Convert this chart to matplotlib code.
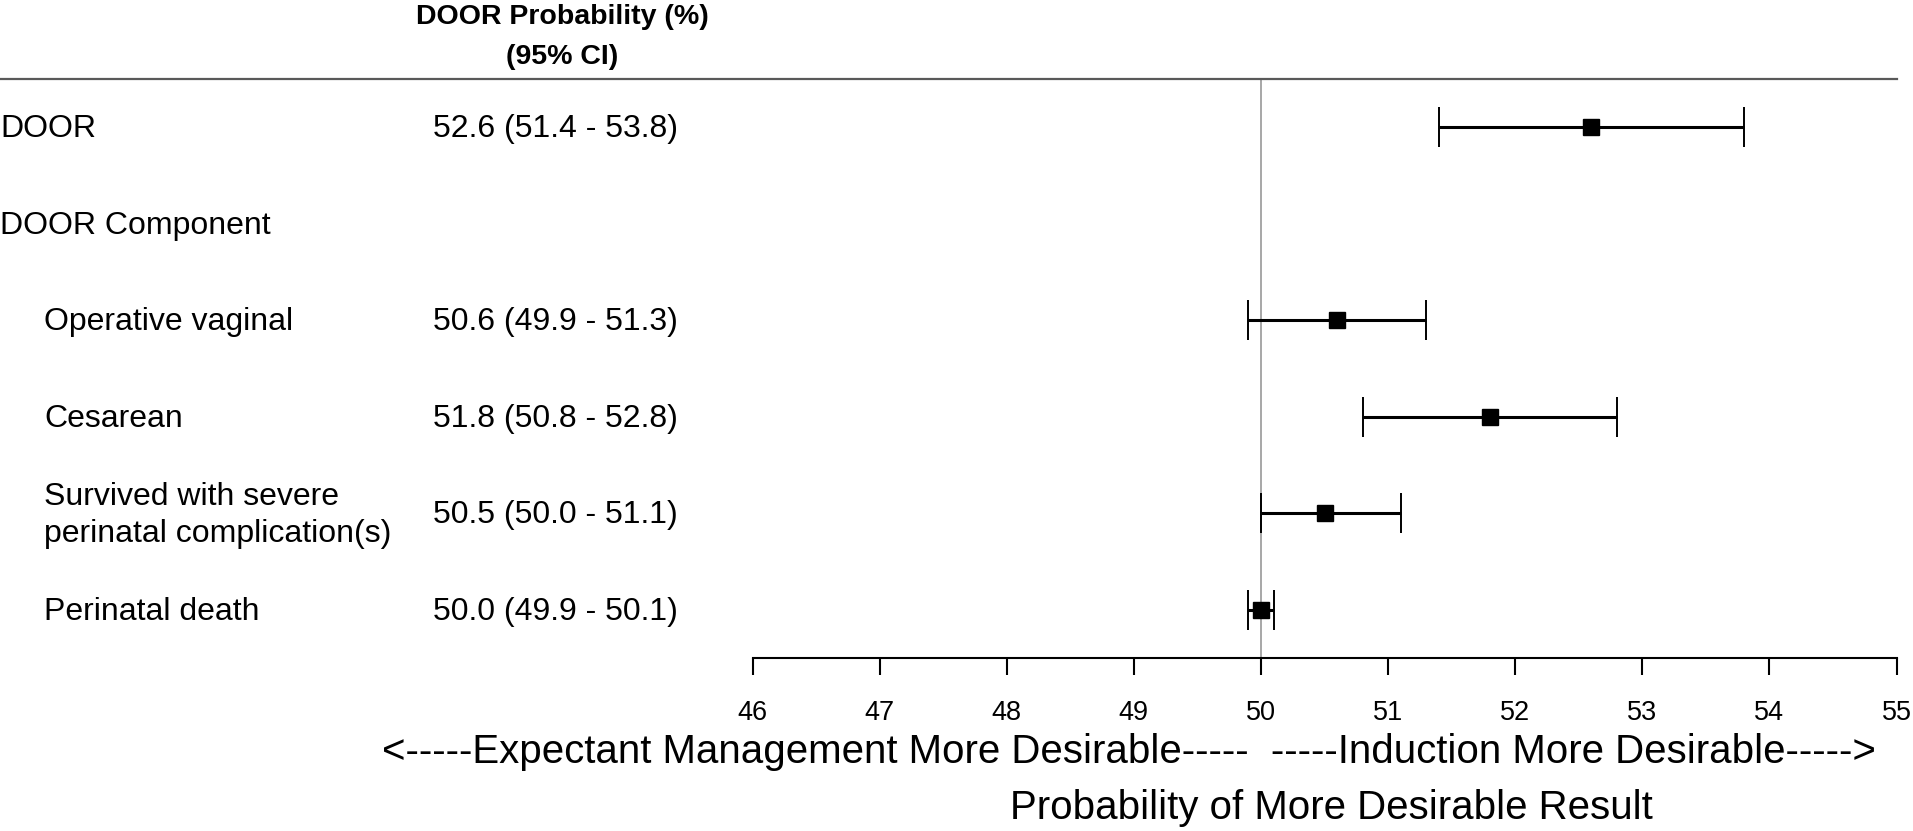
import numpy as np
import matplotlib
matplotlib.use("Agg")
from matplotlib import pyplot as plt
from matplotlib.lines import Line2D
import matplotlib.transforms as mtransforms

plt.rcParams['font.family'] = ['Liberation Sans', 'DejaVu Sans']

labels = ["DOOR", "DOOR Component", "Operative vaginal", "Cesarean",
          "Survived with severe\nperinatal complication(s)", "Perinatal death"]
estimate = [52.6, np.nan, 50.6, 51.8, 50.5, 50.0]
ci_low = [51.4, np.nan, 49.9, 50.8, 50.0, 49.9]
ci_high = [53.8, np.nan, 51.3, 52.8, 51.1, 50.1]
xticks = [46, 47, 48, 49, 50, 51, 52, 53, 54, 55]

W, H = 1913, 831
fig = plt.figure(figsize=(W / 100, H / 100), dpi=100)

# pixel helpers
def fx(px):
    return px / W

def fy(py):
    return (H - py) / H

ax = fig.add_axes([fx(752.5), fy(658), fx(1896.5) - fx(752.5), fy(79) - fy(658)])
ax.set_xlim(46, 55)
ax.set_ylim(5.5, -0.5)

est = np.array(estimate)
lo = np.array(ci_low)
hi = np.array(ci_high)
rows = np.arange(len(labels))
ok = ~np.isnan(est)

ax.axvline(50, color='#a0a0a0', lw=1.3, zorder=1)
ax.errorbar(est[ok], rows[ok], xerr=[est[ok] - lo[ok], hi[ok] - est[ok]],
            fmt='s', color='black', ms=11, lw=2.2, capsize=14.5, capthick=1.4,
            zorder=3)

for s in ['top', 'left', 'right']:
    ax.spines[s].set_visible(False)
ax.spines['bottom'].set_linewidth(1.5)
ax.set_yticks([])
ax.set_xticks(xticks)
ax.tick_params(axis='x', length=12.5, width=1.5, direction='out', pad=18,
               labelsize=19.5)

# header line across the whole table
fig.add_artist(Line2D([0, fx(1896.5)], [fy(79), fy(79)], color='#595959', lw=1.6))

# left columns, placed in figure x / data y
trl = mtransforms.blended_transform_factory(fig.transFigure, ax.transData)
for i, lab in enumerate(labels):
    x0 = 0.0 if i < 2 else fx(44)
    ax.text(x0, i + 0.02, lab, transform=trl, ha='left', va='center', fontsize=23,
            linespacing=1.3)
    if ok[i]:
        ax.text(fx(433), i + 0.02, "%.1f (%.1f - %.1f)" % (est[i], lo[i], hi[i]),
                transform=trl, ha='left', va='center', fontsize=23)

fig.text(fx(562), fy(24), "DOOR Probability (%)", ha='center', va='baseline',
         fontsize=20.5, fontweight='bold')
fig.text(fx(562), fy(64), "(95% CI)", ha='center', va='baseline',
         fontsize=20.5, fontweight='bold')

fig.text(fx(382), fy(763),
         "<-----Expectant Management More Desirable-----  -----Induction More Desirable----->",
         ha='left', va='baseline', fontsize=29)
fig.text(fx(1331), fy(819), "Probability of More Desirable Result",
         ha='center', va='baseline', fontsize=29)

fig.savefig("out.png", dpi=100)
